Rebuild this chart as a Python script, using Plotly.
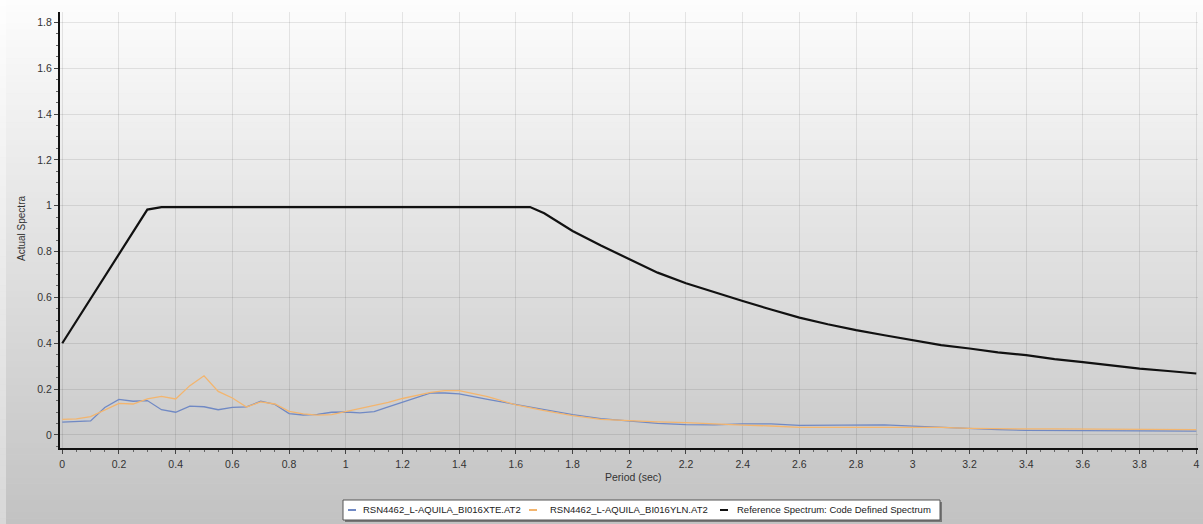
import plotly.graph_objects as go

# ---- data -------------------------------------------------------------
period_ref = [0, 0.3, 0.35, 1.65, 1.7, 1.8, 1.9, 2.0, 2.1, 2.2, 2.3, 2.4, 2.5,
              2.6, 2.7, 2.8, 2.9, 3.0, 3.1, 3.2, 3.3, 3.4, 3.5, 3.6, 3.7, 3.8,
              3.9, 4.0]
sa_ref = [0.40, 0.983, 0.994, 0.994, 0.967, 0.89, 0.826, 0.768, 0.708, 0.662,
          0.622, 0.584, 0.547, 0.512, 0.483, 0.457, 0.435, 0.413, 0.392, 0.377,
          0.36, 0.348, 0.331, 0.318, 0.304, 0.289, 0.279, 0.268]

period_rec = [0, 0.05, 0.1, 0.15, 0.2, 0.25, 0.3, 0.35, 0.4, 0.45, 0.5, 0.55,
              0.6, 0.65, 0.7, 0.75, 0.8, 0.85, 0.9, 0.95, 1.0, 1.05, 1.1, 1.15,
              1.2, 1.25, 1.3, 1.35, 1.4, 1.5, 1.6, 1.7, 1.8, 1.9, 2.0, 2.1, 2.2,
              2.3, 2.4, 2.5, 2.6, 2.7, 2.8, 2.9, 3.0, 3.1, 3.2, 3.3, 3.4, 3.5,
              3.6, 3.7, 3.8, 3.9, 4.0]
sa_xte = [0.056, 0.058, 0.061, 0.12, 0.155, 0.147, 0.15, 0.11, 0.099, 0.126,
          0.123, 0.11, 0.12, 0.122, 0.147, 0.133, 0.093, 0.087, 0.09, 0.099,
          0.1, 0.096, 0.102, 0.122, 0.142, 0.163, 0.183, 0.183, 0.179, 0.155,
          0.132, 0.112, 0.089, 0.071, 0.061, 0.05, 0.045, 0.044, 0.048, 0.048,
          0.042, 0.042, 0.044, 0.044, 0.038, 0.033, 0.026, 0.023, 0.02, 0.02,
          0.017, 0.017, 0.017, 0.017, 0.017]
sa_yln = [0.068, 0.07, 0.08, 0.11, 0.138, 0.135, 0.157, 0.168, 0.157, 0.215,
          0.258, 0.19, 0.161, 0.122, 0.144, 0.135, 0.103, 0.092, 0.086, 0.089,
          0.102, 0.117, 0.127, 0.142, 0.159, 0.172, 0.186, 0.193, 0.193, 0.167,
          0.131, 0.106, 0.084, 0.068, 0.062, 0.057, 0.054, 0.047, 0.043, 0.039,
          0.033, 0.033, 0.033, 0.033, 0.033, 0.033, 0.029, 0.026, 0.026, 0.026,
          0.026, 0.024, 0.023, 0.023, 0.023]

series_names = ["RSN4462_L-AQUILA_BI016XTE.AT2",
                "RSN4462_L-AQUILA_BI016YLN.AT2",
                "Reference Spectrum: Code Defined Spectrum"]
series_colors = ["#7089c4", "#f3b56e", "#111111"]
series_widths = [1.3, 1.3, 2.2]

x_title = "Period (sec)"
y_title = "Actual Spectra"

# ---- geometry ----------------------------------------------------------
W, H = 1203, 524
ML, MR, MT, MB = 60, 5, 12, 76
PW, PH = W - ML - MR, H - MT - MB
FONT = "Liberation Sans, Arial, sans-serif"


def px(x):
    return (x - ML) / PW


def py(y):
    return (H - MB - y) / PH


fig = go.Figure()
for xs, ys, name, col, lw in zip([period_rec, period_rec, period_ref],
                                 [sa_xte, sa_yln, sa_ref],
                                 series_names, series_colors, series_widths):
    fig.add_trace(go.Scatter(x=xs, y=ys, mode="lines", name=name,
                             line=dict(color=col, width=lw),
                             showlegend=False, hoverinfo="x+y+name"))

shapes = []
# vertical grey gradient behind the whole chart
bands = 90
for i in range(bands):
    y0 = H * i / bands
    y1 = H * (i + 1) / bands + 0.6
    t = (i + 0.5) / bands
    g = int(round(253 - (253 - 194) * t))
    shapes.append(dict(type="rect", xref="paper", yref="paper",
                       x0=px(-2), x1=px(W + 2), y0=py(y1), y1=py(y0),
                       line=dict(width=0), fillcolor=f"rgb({g},{g},{g})",
                       layer="below"))
# lighter strip at the far left edge
for i in range(bands):
    y0 = H * i / bands
    y1 = H * (i + 1) / bands + 0.6
    t = (i + 0.5) / bands
    g = int(round(254 - (254 - 216) * t))
    shapes.append(dict(type="rect", xref="paper", yref="paper",
                       x0=px(-2), x1=px(6), y0=py(y1), y1=py(y0),
                       line=dict(width=0), fillcolor=f"rgb({g},{g},{g})",
                       layer="below"))

# legend box with drop shadow
LX0, LX1, LY0, LY1 = 343, 940, 500, 520
shapes.append(dict(type="rect", xref="paper", yref="paper",
                   x0=px(LX0 + 2), x1=px(LX1 + 2), y0=py(LY1 + 2), y1=py(LY0 + 2),
                   line=dict(width=0), fillcolor="rgba(60,60,60,0.55)"))
shapes.append(dict(type="rect", xref="paper", yref="paper",
                   x0=px(LX0), x1=px(LX1), y0=py(LY1), y1=py(LY0),
                   line=dict(width=1, color="#555555"), fillcolor="white"))

legend_dash_x = [348, 529, 720]
legend_text_x = [361, 548, 735]
annotations = []
ly = (LY0 + LY1) / 2
for dx, tx, name, col in zip(legend_dash_x, legend_text_x, series_names,
                             series_colors):
    shapes.append(dict(type="line", xref="paper", yref="paper",
                       x0=px(dx), x1=px(dx + 8), y0=py(ly), y1=py(ly),
                       line=dict(color=col, width=2)))
    annotations.append(dict(text=name, xref="paper", yref="paper",
                            x=px(tx), y=py(ly), xanchor="left", yanchor="middle",
                            showarrow=False,
                            font=dict(family=FONT, size=9.5, color="#222222")))

annotations.append(dict(text=x_title, xref="paper", yref="paper",
                        x=px(633), y=py(477), xanchor="center", yanchor="middle",
                        showarrow=False,
                        font=dict(family=FONT, size=10.5, color="#333333")))
annotations.append(dict(text=y_title, xref="paper", yref="paper",
                        x=px(22), y=py(229), xanchor="center", yanchor="middle",
                        textangle=-90, showarrow=False,
                        font=dict(family=FONT, size=10, color="#333333")))

axis_common = dict(
    showline=True, linecolor="#111111", linewidth=2,
    ticks="outside", ticklen=4, tickcolor="#444444", tickwidth=1,
    showgrid=True, gridcolor="rgba(0,0,0,0.09)", gridwidth=1,
    zeroline=False, tick0=0, dtick=0.2,
    tickfont=dict(family=FONT, size=10.5, color="#333333"),
    minor=dict(ticks="outside", dtick=0.05, ticklen=2, tickcolor="#666666",
               showgrid=False),
    fixedrange=True,
)

fig.update_layout(
    width=W, height=H, autosize=False,
    margin=dict(l=ML, r=MR, t=MT, b=MB, pad=0),
    paper_bgcolor="rgb(224,224,224)", plot_bgcolor="rgba(0,0,0,0)",
    xaxis=dict(range=[-0.008, 4.006], ticklabelstandoff=1, **axis_common),
    yaxis=dict(range=[-0.057, 1.845], **axis_common),
    shapes=shapes, annotations=annotations, showlegend=False,
)

fig.write_html("out.html")
